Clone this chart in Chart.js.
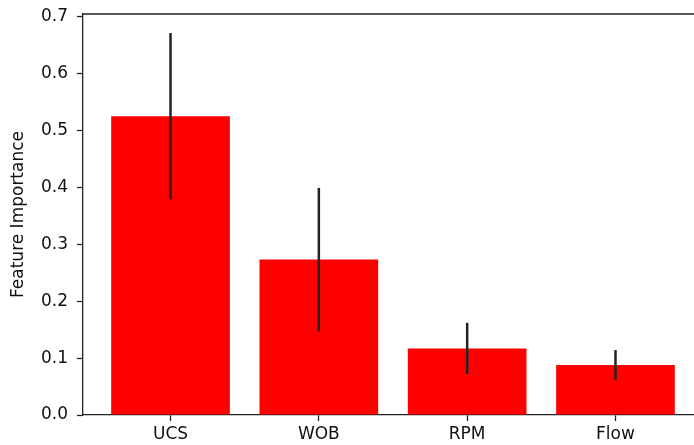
<!DOCTYPE html>
<html>
<head>
<meta charset="utf-8">
<script src="https://cdn.jsdelivr.net/npm/chart.js@4.4.1/dist/chart.umd.min.js"></script>
<style>
    html, body { margin: 0; padding: 0; background: #fff; overflow: hidden; width: 694px; height: 445px; }
    canvas { display: block; }
</style>
</head>
<body>
<canvas id="importance" width="704" height="445"></canvas>
<script>
    "use strict";

    // Data
    var features = ["UCS", "WOB", "RPM", "Flow"];
    var importance = [0.525, 0.273, 0.117, 0.088];
    var errors = [0.146, 0.126, 0.045, 0.026];
    var yTicks = [0.0, 0.1, 0.2, 0.3, 0.4, 0.5, 0.6, 0.7];

    var ink = "#222222";
    var font = { family: "'DejaVu Sans', sans-serif", size: 17 };

    // matplotlib-like autoscale: 5% margins
    var yMax = Math.max.apply(null, importance.map(function (v, i) { return v + errors[i]; })) * 1.05;

    // Error bars on top of the bars
    var errorBars = {
        id: "errorBars",
        afterDatasetsDraw: function (chart) {
            var ctx = chart.ctx, x = chart.scales.x, y = chart.scales.y;
            ctx.save();
            ctx.strokeStyle = ink;
            ctx.lineWidth = 2.5;
            importance.forEach(function (v, i) {
                var px = x.getPixelForValue(i);
                ctx.beginPath();
                ctx.moveTo(px, y.getPixelForValue(v - errors[i]));
                ctx.lineTo(px, y.getPixelForValue(v + errors[i]));
                ctx.stroke();
            });
            ctx.restore();
        }
    };

    // Top and right spines
    var frame = {
        id: "frame",
        afterDraw: function (chart) {
            var ctx = chart.ctx, a = chart.chartArea;
            ctx.save();
            ctx.strokeStyle = ink;
            ctx.lineWidth = 1.3;
            ctx.beginPath();
            ctx.moveTo(a.left, a.top);
            ctx.lineTo(a.right, a.top);
            ctx.lineTo(a.right, a.bottom);
            ctx.stroke();
            ctx.restore();
        }
    };

    var ctx = document.getElementById("importance").getContext("2d");
    var chart = new Chart(ctx, {
        type: "bar",
        data: {
            datasets: [{
                data: importance.map(function (v, i) { return { x: i, y: v }; }),
                backgroundColor: "#ff0000",
                borderWidth: 0,
                barPercentage: 0.8,
                categoryPercentage: 1.0
            }]
        },
        options: {
            responsive: false,
            animation: false,
            layout: { padding: { top: 14, left: 0, right: 1, bottom: 0 } },
            plugins: { legend: { display: false }, tooltip: { enabled: false } },
            scales: {
                x: {
                    type: "linear",
                    offset: false,
                    min: -0.59,
                    max: 3.59,
                    afterBuildTicks: function (axis) {
                        axis.ticks = features.map(function (f, i) { return { value: i }; });
                    },
                    afterFit: function (axis) {
                        axis.height = 30;
                        axis.paddingLeft = 0;
                        axis.paddingRight = 0;
                    },
                    grid: { offset: false, drawOnChartArea: false, drawTicks: true, tickLength: 6, tickColor: ink, tickWidth: 1.3 },
                    border: { display: true, color: ink, width: 1.3 },
                    ticks: {
                        color: "#111",
                        font: font,
                        padding: 3,
                        maxRotation: 0,
                        autoSkip: false,
                        callback: function (v) { return features[v]; }
                    }
                },
                y: {
                    min: 0,
                    max: yMax,
                    afterBuildTicks: function (axis) {
                        axis.ticks = yTicks.map(function (t) { return { value: t }; });
                    },
                    afterFit: function (axis) {
                        axis.width = 83;
                        axis.paddingTop = 0;
                        axis.paddingBottom = 0;
                    },
                    grid: { drawOnChartArea: false, drawTicks: true, tickLength: 6, tickColor: ink, tickWidth: 1.3 },
                    border: { display: true, color: ink, width: 1.3 },
                    ticks: {
                        color: "#111",
                        font: font,
                        padding: 9,
                        callback: function (v) { return v.toFixed(1); }
                    },
                    title: {
                        display: true,
                        text: "Feature Importance",
                        color: "#111",
                        font: font,
                        padding: { top: 8, bottom: 0 }
                    }
                }
            }
        },
        plugins: [errorBars, frame]
    });
</script>
</body>
</html>
